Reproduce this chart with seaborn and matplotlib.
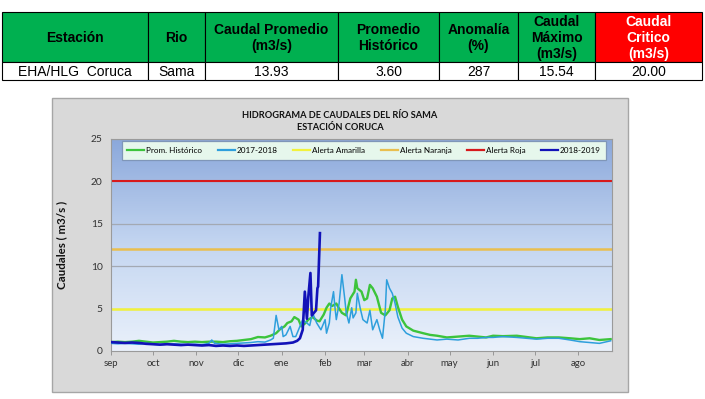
import numpy as np
import pandas as pd
import matplotlib
matplotlib.use("Agg")
import matplotlib.pyplot as plt
from matplotlib.patches import Rectangle
from matplotlib.lines import Line2D
from matplotlib.colors import LinearSegmentedColormap
import seaborn as sns

# ---------------- data ----------------
table_headers = ["Estación", "Rio", "Caudal Promedio\n(m3/s)", "Promedio\nHistórico",
                 "Anomalía\n(%)", "Caudal\nMáximo\n(m3/s)", "Caudal\nCritico\n(m3/s)"]
table_values = ["EHA/HLG  Coruca", "Sama", "13.93", "3.60", "287", "15.54", "20.00"]

month_ticks = [0, 30, 61, 91, 122, 153, 181, 212, 242, 273, 303, 334]
month_labels = ["sep", "oct", "nov", "dic", "ene", "feb", "mar", "abr", "may", "jun", "jul", "ago"]

hist_days = [0, 5, 10, 15, 20, 25, 30, 35, 40, 45, 50, 55, 60, 65, 70, 75, 80, 85, 90, 95,
             100, 105, 110, 114, 118, 121, 124, 126, 129, 131, 134, 136, 139, 141, 144, 147,
             149, 152, 154, 156, 158, 161, 163, 165, 168, 171, 174, 175, 176, 179, 181, 183,
             185, 187, 190, 193, 196, 199, 201, 203, 205, 208, 211, 216, 223, 228, 233, 240,
             248, 256, 262, 268, 273, 280, 290, 297, 304, 312, 320, 328, 335, 342, 349, 357]
hist_q = [1.05, 1.1, 1.05, 1.1, 1.2, 1.1, 1.0, 1.05, 1.1, 1.2, 1.1, 1.05, 1.1, 1.05, 1.1, 1.1,
          1.05, 1.15, 1.2, 1.3, 1.4, 1.65, 1.6, 1.8, 2.1, 2.6, 2.9, 3.3, 3.5, 4.0, 3.7, 2.9,
          3.3, 3.7, 4.0, 3.6, 3.5, 4.3, 5.1, 5.6, 5.3, 5.6, 5.0, 4.5, 4.2, 6.2, 7.0, 8.4, 7.4,
          7.0, 6.0, 6.2, 7.8, 7.4, 6.4, 4.5, 4.2, 4.8, 6.2, 6.4, 5.2, 3.7, 2.9, 2.4, 2.1, 1.9,
          1.8, 1.6, 1.7, 1.8, 1.7, 1.6, 1.8, 1.75, 1.8, 1.65, 1.5, 1.6, 1.6, 1.5, 1.4, 1.5,
          1.3, 1.4]

y1718_days = [0, 5, 10, 15, 20, 25, 30, 35, 40, 45, 50, 55, 60, 65, 70, 72, 74, 80, 85, 90,
              95, 100, 105, 110, 114, 116, 118, 120, 122, 123, 125, 128, 130, 132, 135, 137,
              140, 142, 144, 147, 150, 153, 154, 156, 157, 159, 160, 161, 163, 165, 166, 167,
              168, 170, 172, 173, 175, 176, 178, 180, 183, 185, 187, 190, 192, 194, 196, 197,
              199, 201, 203, 205, 208, 211, 216, 223, 228, 233, 240, 248, 256, 262, 268, 273,
              280, 290, 297, 304, 312, 320, 328, 335, 342, 349, 357]
y1718_q = [0.9, 0.85, 0.9, 0.85, 0.8, 0.9, 0.8, 0.75, 0.8, 0.85, 0.8, 0.75, 0.8, 0.75, 0.9,
           1.3, 0.9, 0.8, 0.85, 0.9, 0.95, 1.0, 1.1, 1.05, 1.3, 1.5, 4.2, 2.5, 2.9, 1.7, 1.9,
           2.9, 1.7, 1.7, 2.9, 3.7, 3.3, 3.0, 4.5, 3.3, 2.5, 3.7, 2.1, 3.3, 5.1, 7.0, 5.2, 3.7,
           5.6, 9.0, 7.6, 6.2, 4.6, 3.3, 5.1, 3.9, 4.5, 6.8, 5.1, 3.7, 3.3, 4.8, 2.5, 3.7, 2.5,
           1.5, 4.8, 8.4, 7.4, 6.8, 5.6, 4.0, 2.7, 2.1, 1.7, 1.5, 1.4, 1.3, 1.4, 1.3, 1.5, 1.5,
           1.6, 1.6, 1.7, 1.6, 1.5, 1.4, 1.5, 1.5, 1.3, 1.1, 1.0, 0.9, 1.2]

y1819_days = [0, 5, 10, 15, 20, 25, 30, 35, 40, 45, 50, 55, 60, 65, 70, 75, 80, 85, 90, 95,
              100, 105, 110, 115, 120, 125, 130, 133, 135, 137, 138.5, 140, 141, 142.5, 143.5,
              145, 146.5, 147.5, 148, 149.3]
y1819_q = [1.05, 1.0, 0.95, 1.0, 0.95, 0.85, 0.8, 0.75, 0.8, 0.75, 0.7, 0.75, 0.7, 0.65, 0.7,
           0.6, 0.65, 0.6, 0.65, 0.6, 0.65, 0.7, 0.75, 0.8, 0.85, 0.9, 1.0, 1.2, 1.5, 2.5, 7.0,
           3.8, 6.4, 9.2, 4.2, 4.5, 4.8, 7.4, 7.6, 13.9]

alert_amarilla = 5
alert_naranja = 12
alert_roja = 20

# ---------------- figure ----------------
W, H = 705, 399
fig = plt.figure(figsize=(W / 100, H / 100), dpi=100)
fig.patch.set_facecolor("white")

bg = fig.add_axes([0, 0, 1, 1], zorder=-5)
bg.set_xlim(0, W)
bg.set_ylim(H, 0)
bg.axis("off")

# table
col_edges = [2, 148, 205, 338, 439, 518, 595, 702]
y_top, y_mid, y_bot = 12, 62, 80
for i in range(7):
    x0, x1 = col_edges[i], col_edges[i + 1]
    fc = "#ff0000" if i == 6 else "#00b050"
    bg.add_patch(Rectangle((x0, y_top), x1 - x0, y_mid - y_top, facecolor=fc,
                           edgecolor="black", lw=0.8))
    bg.add_patch(Rectangle((x0, y_mid), x1 - x0, y_bot - y_mid, facecolor="white",
                           edgecolor="black", lw=0.8))
    tc = "white" if i == 6 else "black"
    bg.text((x0 + x1) / 2, (y_top + y_mid) / 2 + 1, table_headers[i], ha="center",
            va="center", fontsize=10, fontweight="bold", color=tc,
            family="Liberation Sans", linespacing=1.2)
    bg.text((x0 + x1) / 2, (y_mid + y_bot) / 2 + 1, table_values[i], ha="center",
            va="center", fontsize=10, color="black", family="Liberation Sans")

# chart frame and title
bg.add_patch(Rectangle((52, 98), 576, 294, facecolor="#d9d9d9", edgecolor="#a6a6a6", lw=1.0))
bg.text(340, 115, "HIDROGRAMA DE CAUDALES DEL RÍO SAMA", ha="center", va="center",
        fontsize=6.7, fontweight="bold", family="Lato", color="#111111")
bg.text(340, 128, "ESTACIÓN CORUCA", ha="center", va="center",
        fontsize=6.7, fontweight="bold", family="Lato", color="#111111")

# plot axes
left, right, top, bottom = 111, 612, 139, 351
ax = fig.add_axes([left / W, (H - bottom) / H, (right - left) / W, (bottom - top) / H])

XMAX = 358
grad = np.linspace(0, 1, 256).reshape(-1, 1)
cmap = LinearSegmentedColormap.from_list("bgc", ["#eaf1fb", "#c4d6f1", "#8ba8db"])
ax.imshow(grad, extent=[0, XMAX, 0, 25], origin="lower", aspect="auto", cmap=cmap, zorder=0)

for yv in [5, 10, 15, 20, 25]:
    ax.axhline(yv, color="#a3a9b3", lw=0.9, zorder=1)

c_hist = "#3cc43c"
c_1718 = "#2e9fdc"
c_1819 = "#1212b8"
c_am = "#f2f23c"
c_na = "#e9bf4f"
c_ro = "#d7191c"

ax.axhline(alert_amarilla, color=c_am, lw=1.8, zorder=2)
ax.axhline(alert_naranja, color=c_na, lw=1.8, zorder=2)
ax.axhline(alert_roja, color=c_ro, lw=1.5, zorder=2)

sns.lineplot(x=hist_days, y=hist_q, ax=ax, color=c_hist, lw=1.7, zorder=3)
sns.lineplot(x=y1718_days, y=y1718_q, ax=ax, color=c_1718, lw=1.1, zorder=4)
sns.lineplot(x=y1819_days, y=y1819_q, ax=ax, color=c_1819, lw=1.9, zorder=5)

ax.set_xlim(0, XMAX)
ax.set_ylim(0, 25)
ax.set_xticks(month_ticks)
ax.set_xticklabels(month_labels, fontsize=6.9, family="Lato", color="#333333")
ax.set_yticks([0, 5, 10, 15, 20, 25])
ax.set_yticklabels(["0", "5", "10", "15", "20", "25"], fontsize=7.4, family="Lato", color="#333333")
ax.tick_params(axis="x", length=3, width=0.6, color="#8c8c8c", pad=3)
ax.tick_params(axis="y", length=0, pad=6)
for s in ax.spines.values():
    s.set_color("#9a9a9a")
    s.set_linewidth(0.8)
ax.set_xlabel("")
ax.set_ylabel("Caudales ( m3/s )", fontsize=8.3, fontweight="bold", family="Lato", color="#111111")
ax.yaxis.set_label_coords(-0.088, 0.5)

handles = [Line2D([], [], color=c_hist, lw=1.6), Line2D([], [], color=c_1718, lw=1.6),
           Line2D([], [], color=c_am, lw=1.6), Line2D([], [], color=c_na, lw=1.6),
           Line2D([], [], color=c_ro, lw=1.6), Line2D([], [], color=c_1819, lw=1.6)]
labels = ["Prom. Histórico", "2017-2018", "Alerta Amarilla", "Alerta Naranja", "Alerta Roja",
          "2018-2019"]
leg = ax.legend(handles, labels, ncol=6, loc="upper left", mode="expand",
                bbox_to_anchor=(0.021, 0.99, 0.968, 0.0),
                prop={"family": "Lato", "size": 5.9}, frameon=True, fancybox=False,
                facecolor="#e6f7ec", edgecolor="#7f96b8", framealpha=1,
                handlelength=2.1, handletextpad=0.2, borderpad=0.7, columnspacing=1.0,
                borderaxespad=0.0)
leg.get_frame().set_linewidth(0.9)
leg.set_zorder(10)

fig.savefig("out.png", dpi=100)
